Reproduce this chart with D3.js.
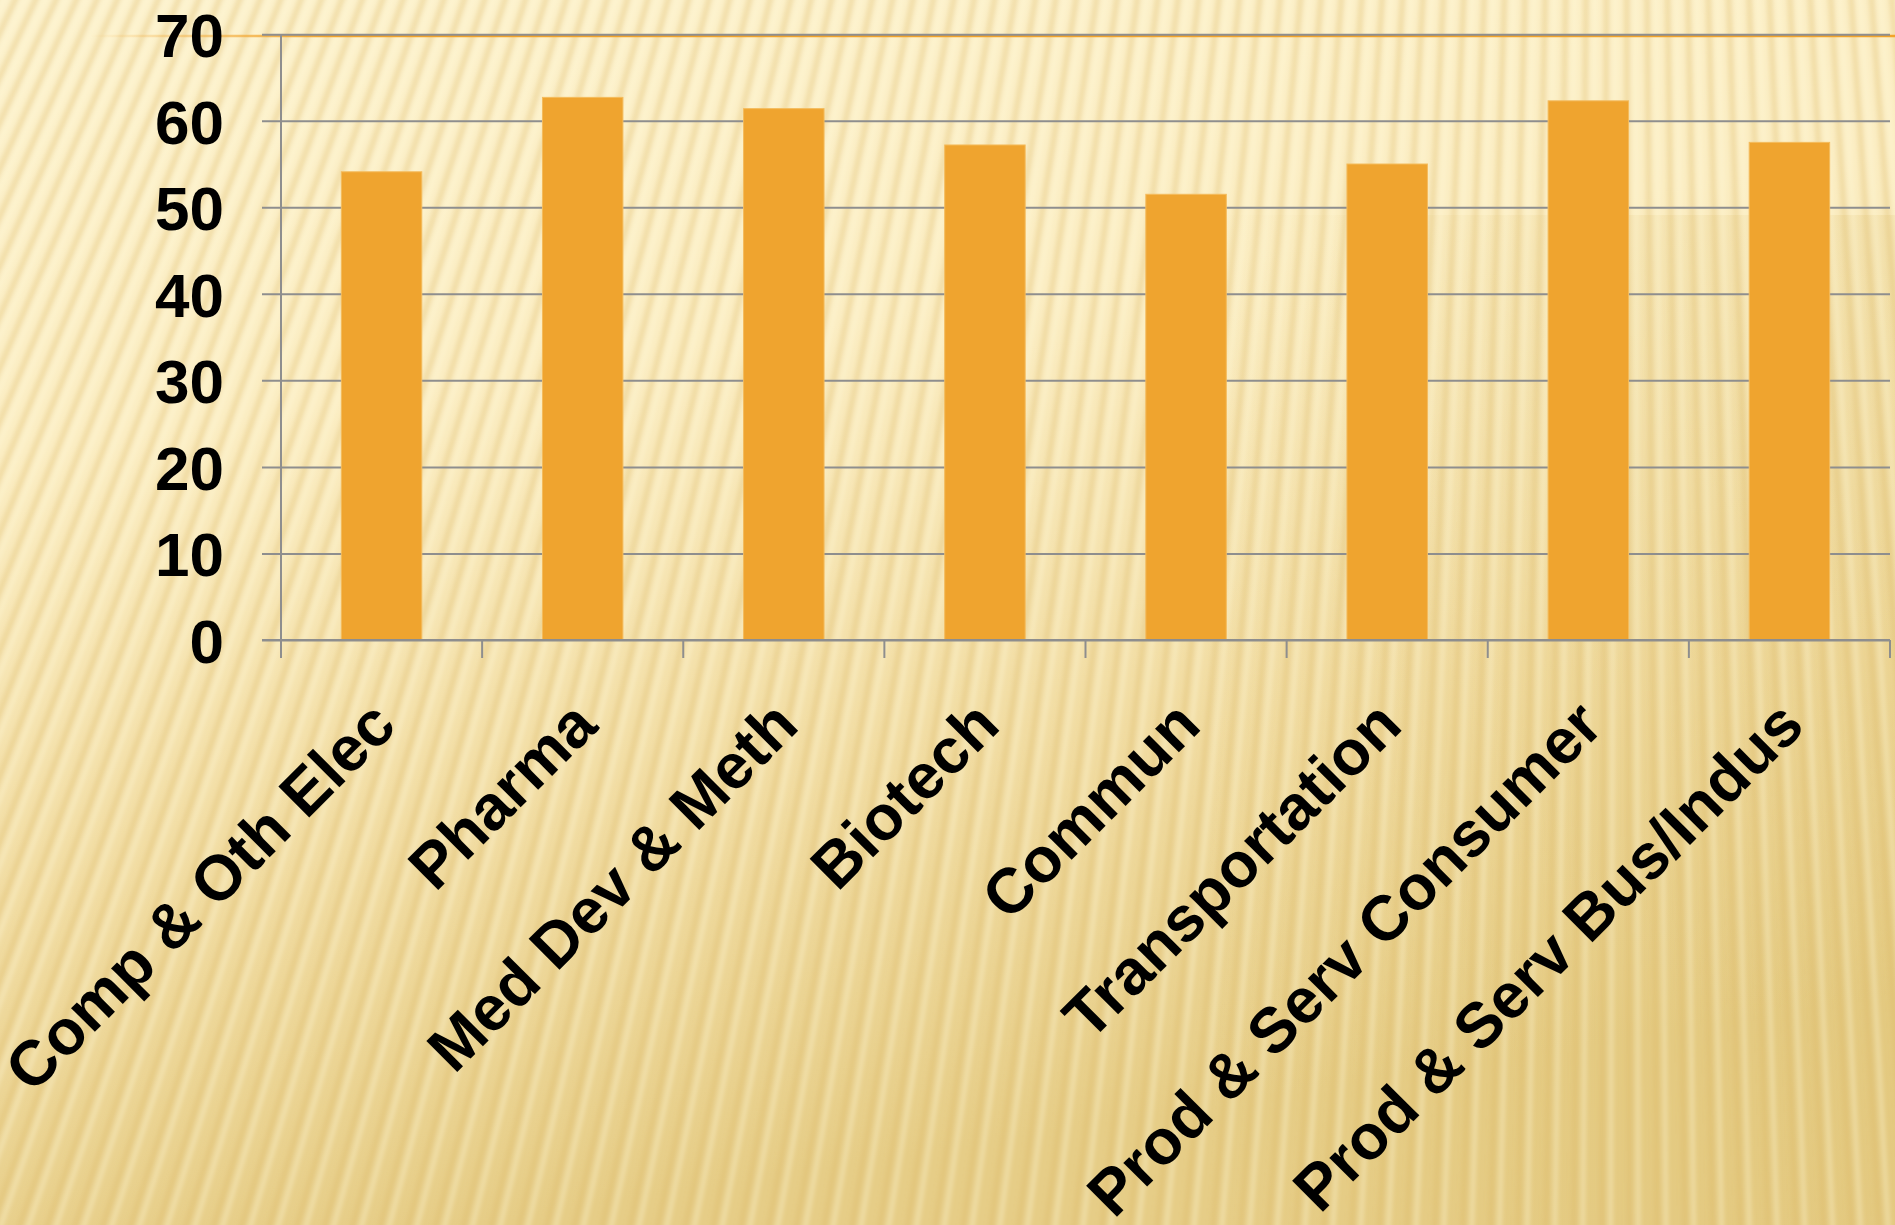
<!DOCTYPE html>
<html>
<head>
<meta charset="utf-8">
<script src="https://cdn.jsdelivr.net/npm/d3@7"></script>
<style>
  html, body { margin: 0; padding: 0; background: #fbefc6; }
  svg { display: block; }
</style>
</head>
<body>
<svg id="chart" width="1895" height="1225"></svg>
<script>
// ---- data ----
const categories = ["Comp & Oth Elec", "Pharma", "Med Dev & Meth", "Biotech", "Commun", "Transportation", "Prod & Serv Consumer", "Prod & Serv Bus/Indus"];
const values = [54.1, 62.7, 61.4, 57.2, 51.5, 55.0, 62.3, 57.5];
const yTicks = [0, 10, 20, 30, 40, 50, 60, 70];

// ---- layout ----
const W = 1895, H = 1225;
const plotLeft = 281, plotRight = 1890, plotTop = 34.2, plotBottom = 640;
const svg = d3.select("#chart");
const defs = svg.append("defs");

// background gradients
const bg = defs.append("linearGradient").attr("id", "bgGrad").attr("x1", 0).attr("y1", 0).attr("x2", 0.25).attr("y2", 1);
bg.append("stop").attr("offset", "0").attr("stop-color", "#fcf1cb");
bg.append("stop").attr("offset", "0.35").attr("stop-color", "#fbedc2");
bg.append("stop").attr("offset", "0.7").attr("stop-color", "#f1dca2");
bg.append("stop").attr("offset", "1").attr("stop-color", "#e6cd87");

const side = defs.append("linearGradient").attr("id", "sideGrad").attr("x1", 0).attr("y1", 0).attr("x2", 1).attr("y2", 0);
side.append("stop").attr("offset", "0").attr("stop-color", "#d8b860").attr("stop-opacity", 0);
side.append("stop").attr("offset", "0.5").attr("stop-color", "#d8b860").attr("stop-opacity", 0.12);
side.append("stop").attr("offset", "1").attr("stop-color", "#d8b860").attr("stop-opacity", 0.18);

const blur = defs.append("filter").attr("id", "soft").attr("x", "-5%").attr("y", "-5%").attr("width", "110%").attr("height", "110%");
blur.append("feGaussianBlur").attr("stdDeviation", 2.2);

const oline = defs.append("linearGradient").attr("id", "orangeLine").attr("gradientUnits", "userSpaceOnUse")
  .attr("x1", 90).attr("y1", 0).attr("x2", 330).attr("y2", 0);
oline.append("stop").attr("offset", "0").attr("stop-color", "#f2a32a").attr("stop-opacity", 0);
oline.append("stop").attr("offset", "1").attr("stop-color", "#f2a32a").attr("stop-opacity", 1);

svg.append("rect").attr("width", W).attr("height", H).attr("fill", "url(#bgGrad)");
svg.append("rect").attr("x", 1200).attr("y", 215).attr("width", W - 1200).attr("height", H - 215).attr("fill", "url(#sideGrad)");

// fan of background stripes (decoration)
const fx = 1620, fy = -3400;
const stripes = svg.append("g").attr("filter", "url(#soft)");
for (let xs = -700; xs <= 2600; xs += 24) {
  const dx = xs - fx, dy = 600 - fy;
  const xAt = yy => fx + dx * (yy - fy) / dy;
  stripes.append("line").attr("x1", xAt(-20)).attr("y1", -20).attr("x2", xAt(H + 20)).attr("y2", H + 20)
    .attr("stroke", "#d9b765").attr("stroke-opacity", 0.3).attr("stroke-width", 6);
  stripes.append("line").attr("x1", xAt(-20) + 9).attr("y1", -20).attr("x2", xAt(H + 20) + 9).attr("y2", H + 20)
    .attr("stroke", "#fff8dc").attr("stroke-opacity", 0.35).attr("stroke-width", 5);
}

// orange decorative rule under top gridline
svg.append("line").attr("x1", 90).attr("x2", W).attr("y1", 36).attr("y2", 36)
  .attr("stroke", "url(#orangeLine)").attr("stroke-width", 2.5);

// ---- scales ----
const x = d3.scaleBand().domain(categories).range([plotLeft, plotRight]).paddingInner(0.6).paddingOuter(0.3);
const xb = d3.scaleBand().domain(categories).range([plotLeft, plotRight]).padding(0);
const y = d3.scaleLinear().domain([0, 70]).range([plotBottom, plotTop]);

const font = "'Liberation Sans', Arial, Helvetica, sans-serif";
const gridColor = "#8e8e8e";

// y axis with gridlines
const yAxis = svg.append("g").attr("transform", `translate(${plotLeft},0)`)
  .call(d3.axisLeft(y).tickValues(yTicks).tickSize(-(plotRight - plotLeft)).tickSizeOuter(0).tickPadding(57).tickFormat(d3.format("d")));
yAxis.select(".domain").remove();
yAxis.selectAll(".tick line").attr("x1", -19).attr("x2", plotRight - plotLeft)
  .attr("stroke", gridColor).attr("stroke-width", 2);
yAxis.selectAll(".tick text").attr("font-family", font).attr("font-weight", "bold")
  .attr("font-size", 62).attr("fill", "#000").attr("dy", "0.36em");

// bars
svg.append("g").selectAll("rect").data(values).join("rect")
  .attr("x", (d, i) => x(categories[i]))
  .attr("width", x.bandwidth())
  .attr("y", d => y(d))
  .attr("height", d => y(0) - y(d))
  .attr("fill", "#efa42f")
  .attr("stroke", "#f4bb5c").attr("stroke-width", 1);

// vertical axis line
svg.append("line").attr("x1", plotLeft).attr("x2", plotLeft).attr("y1", plotTop).attr("y2", plotBottom + 18)
  .attr("stroke", gridColor).attr("stroke-width", 2);
// baseline
svg.append("line").attr("x1", plotLeft - 19).attr("x2", plotRight).attr("y1", plotBottom).attr("y2", plotBottom)
  .attr("stroke", gridColor).attr("stroke-width", 2);
// category boundary ticks
const boundaries = categories.map(c => xb(c)).concat([plotRight]);
svg.append("g").selectAll("line").data(boundaries).join("line")
  .attr("x1", d => d).attr("x2", d => d).attr("y1", plotBottom).attr("y2", plotBottom + 18)
  .attr("stroke", gridColor).attr("stroke-width", 2);

// x labels
const xAxis = svg.append("g").attr("transform", `translate(0,${plotBottom})`)
  .call(d3.axisBottom(x).tickSize(0).tickPadding(0));
xAxis.select(".domain").remove();
xAxis.selectAll(".tick text")
  .attr("font-family", font).attr("font-weight", "bold").attr("font-size", 63.5).attr("fill", "#000")
  .attr("text-anchor", "end").attr("x", 0).attr("y", 0).attr("dy", "0.36em")
  .attr("transform", "translate(1,72) rotate(-45)");
</script>
</body>
</html>
